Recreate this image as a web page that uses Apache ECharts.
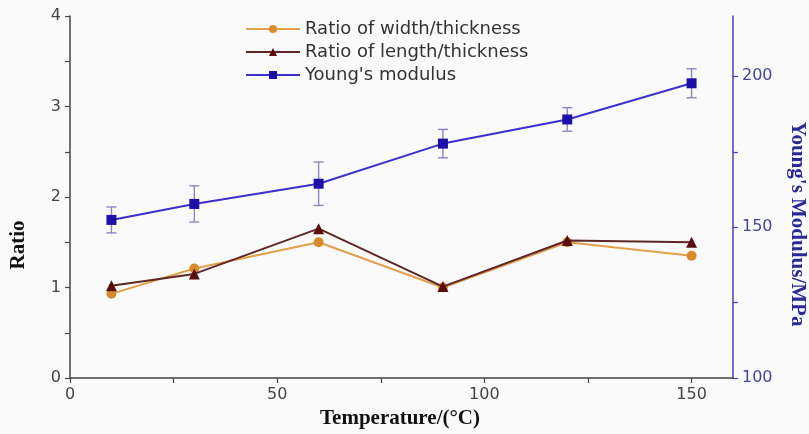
<!DOCTYPE html>
<html><head><meta charset="utf-8">
<script src="https://cdn.jsdelivr.net/npm/echarts@6/dist/echarts.min.js"></script>
<style>html,body{margin:0;padding:0;background:#fafafa}#c{width:809px;height:434px}</style>
</head><body><div id="c"></div>
<script>
var temperature = [10, 30, 60, 90, 120, 150];
var widthRatio = [0.93, 1.21, 1.50, 1.00, 1.50, 1.35];
var lengthRatio = [1.02, 1.15, 1.65, 1.01, 1.52, 1.50];
var youngModulus = [152.4, 157.7, 164.4, 177.7, 185.7, 197.7];
var youngError = [4.3, 6.0, 7.2, 4.7, 3.9, 4.8];
var xTicks = [0, 50, 100, 150];
var ratioTicks = [0, 1, 2, 3, 4];
var modulusTicks = [100, 150, 200];

var pair = function (ys) { return temperature.map(function (t, i) { return [t, ys[i]]; }); };
var errData = temperature.map(function (t, i) { return [t, youngModulus[i] - youngError[i], youngModulus[i] + youngError[i]]; });
var halfSteps = function (arr) { var out = []; for (var i = 0; i < arr.length; i++) { out.push(arr[i]); if (i < arr.length - 1) out.push((arr[i] + arr[i + 1]) / 2); } return out; };

var sans = '"DejaVu Sans", Arial, sans-serif';
var serifBold = 'bold 21px "Liberation Serif", "Times New Roman", serif';

var chart = echarts.init(document.getElementById('c'));
chart.setOption({
  backgroundColor: '#fafafa',
  animation: false,
  grid: { left: 70, right: 76, top: 16, bottom: 56 },
  legend: {
    orient: 'vertical', left: 240, top: 15, itemWidth: 54, itemHeight: 10, itemGap: 5,
    textStyle: { fontFamily: sans, fontSize: 18, color: '#333' },
    data: ['Ratio of width/thickness', 'Ratio of length/thickness', "Young's modulus"]
  },
  xAxis: {
    type: 'value', min: 0, max: 160, splitLine: { show: false },
    axisLine: { lineStyle: { color: '#444', width: 1.5 } },
    axisTick: { customValues: halfSteps(xTicks), length: 5, lineStyle: { color: '#444', width: 1.2 } },
    axisLabel: { customValues: xTicks, margin: 9, fontFamily: sans, fontSize: 16, color: '#444' }
  },
  yAxis: [{
    type: 'value', min: 0, max: 4, splitLine: { show: false },
    axisLine: { show: true, lineStyle: { color: '#444', width: 1.5 } },
    axisTick: { show: true, customValues: halfSteps(ratioTicks), length: 5, lineStyle: { color: '#444', width: 1.2 } },
    axisLabel: { customValues: ratioTicks, margin: 9, fontFamily: sans, fontSize: 16, color: '#444' }
  }, {
    type: 'value', min: 100, max: 220, position: 'right', splitLine: { show: false },
    axisLine: { show: true, lineStyle: { color: '#4a3fb8', width: 1.5 } },
    axisTick: { show: true, customValues: halfSteps(modulusTicks), length: 5, lineStyle: { color: '#4a3fb8', width: 1.2 } },
    axisLabel: { customValues: modulusTicks, margin: 9, fontFamily: sans, fontSize: 16, color: '#45459a' }
  }],
  graphic: [
    { type: 'text', x: 19, y: 245, rotation: Math.PI / 2, style: { text: 'Ratio', font: serifBold, fill: '#111', align: 'center', verticalAlign: 'middle' } },
    { type: 'text', x: 400, y: 419, style: { text: 'Temperature/(°C)', font: serifBold, fill: '#111', align: 'center', verticalAlign: 'middle' } },
    { type: 'text', x: 797, y: 224, rotation: -Math.PI / 2, style: { text: "Young's Modulus/MPa", font: serifBold, fill: '#2a2a96', align: 'center', verticalAlign: 'middle' } }
  ],
  series: [
    {
      type: 'custom', yAxisIndex: 1, silent: true, z: 1,
      data: errData,
      renderItem: function (params, api) {
        var x = api.value(0);
        var lo = api.coord([x, api.value(1)]);
        var hi = api.coord([x, api.value(2)]);
        var w = 5;
        var st = { stroke: '#8a86c4', lineWidth: 1.4 };
        return { type: 'group', children: [
          { type: 'line', shape: { x1: lo[0], y1: lo[1], x2: hi[0], y2: hi[1] }, style: st },
          { type: 'line', shape: { x1: lo[0] - w, y1: lo[1], x2: lo[0] + w, y2: lo[1] }, style: st },
          { type: 'line', shape: { x1: hi[0] - w, y1: hi[1], x2: hi[0] + w, y2: hi[1] }, style: st }
        ] };
      }
    },
    {
      name: 'Ratio of width/thickness', type: 'line', data: pair(widthRatio), z: 3,
      symbol: 'circle', symbolSize: 10,
      lineStyle: { color: '#e0a04c', width: 2 }, itemStyle: { color: '#d98a2a' }
    },
    {
      name: 'Ratio of length/thickness', type: 'line', data: pair(lengthRatio), z: 4,
      symbol: 'triangle', symbolSize: 11,
      lineStyle: { color: '#5e2626', width: 2 }, itemStyle: { color: '#5a0c0c' }
    },
    {
      name: "Young's modulus", type: 'line', yAxisIndex: 1, data: pair(youngModulus), z: 5,
      symbol: 'rect', symbolSize: 10,
      lineStyle: { color: '#3c30cc', width: 2 }, itemStyle: { color: '#1c10a8' }
    }
  ]
});
</script></body></html>
